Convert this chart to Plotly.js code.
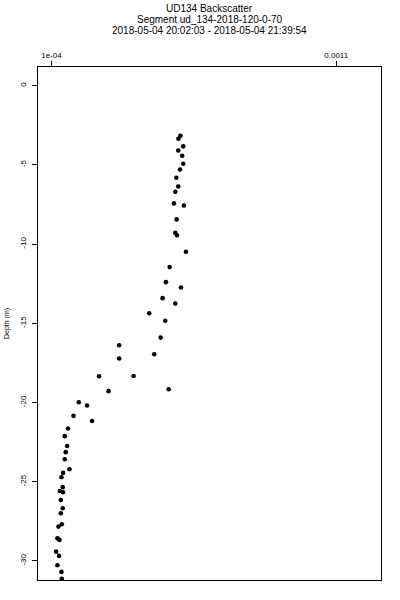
<!DOCTYPE html>
<html>
<head>
<meta charset="utf-8">
<script src="https://cdn.plot.ly/plotly-3.0.1.min.js"></script>
<style>html,body{margin:0;padding:0;background:#fff;}#chart{width:400px;height:600px;}</style>
</head>
<body>
<div id="chart"></div>
<script>
// Backscatter values (units of 1e-4, log x axis)
const backscatterE4 = [2.963,2.913,3.034,2.909,3.008,3.034,2.951,2.861,2.909,2.837,
  2.806,3.052,2.870,2.837,2.877,3.104,2.706,2.622,2.976,2.550,
  2.837,2.278,2.607,2.508,1.769,2.376,1.769,1.494,1.997,2.683,
  1.618,1.259,1.350,1.204,1.408,1.150,1.119,1.141,1.128,1.119,
  1.164,1.103,1.088,1.100,1.073,1.103,1.082,1.100,1.082,1.091,
  1.061,1.052,1.070,1.040,1.066,1.052,1.088,1.091];
// Depth (m)
const depth = [-3.16,-3.35,-3.83,-4.09,-4.42,-4.93,-5.29,-5.81,-6.36,-6.69,
  -7.43,-7.56,-8.44,-9.28,-9.44,-10.48,-11.45,-12.40,-12.74,-13.41,
  -13.75,-14.36,-14.84,-15.90,-16.38,-16.95,-17.22,-18.34,-18.32,-19.16,
  -19.28,-19.98,-20.19,-20.84,-21.16,-21.64,-22.12,-22.74,-23.13,-23.58,
  -24.21,-24.44,-24.71,-25.34,-25.58,-25.66,-26.15,-26.67,-26.99,-27.68,
  -27.83,-28.57,-28.67,-29.41,-29.68,-30.27,-30.69,-31.12];
const xTickVals = [1e-4, 1.1e-3];
const xTickText = ["1e-04", "0.0011"];
const yTickVals = [0, -5, -10, -15, -20, -25, -30];
const yTickText = ["0", "-5", "-10", "-15", "-20", "-25", "-30"];
const titleLines = ["UD134 Backscatter", "Segment ud_134-2018-120-0-70", "2018-05-04 20:02:03 - 2018-05-04 21:39:54"];

const xs = backscatterE4.map(v => v * 1e-4);
const font = "Liberation Sans, Arial, Helvetica, sans-serif";

const trace = {
  x: xs, y: depth, type: "scatter", mode: "markers",
  marker: {color: "#000", size: 4.6, symbol: "circle"},
  hoverinfo: "skip"
};

const titleOffsets = [59, 48, 37];
const annotations = titleLines.map((t, i) => ({
  text: t, xref: "paper", yref: "paper", x: 0.5, y: 1,
  yshift: titleOffsets[i], xanchor: "center", yanchor: "middle",
  showarrow: false, font: {family: font, size: 10, color: "#000"}
}));

const layout = {
  width: 400, height: 600,
  margin: {l: 38, r: 19, t: 67, b: 20},
  paper_bgcolor: "#fff", plot_bgcolor: "#fff",
  showlegend: false,
  font: {family: font, color: "#000"},
  annotations: annotations,
  xaxis: {
    type: "log", side: "top", range: [-4.0491, -2.7949],
    tickmode: "array", tickvals: xTickVals, ticktext: xTickText,
    ticks: "outside", ticklen: 5, tickwidth: 1, tickcolor: "#000",
    showgrid: false, zeroline: false,
    showline: true, linecolor: "#000", linewidth: 1, mirror: true,
    tickfont: {family: font, size: 8, color: "#000"},
    fixedrange: true
  },
  yaxis: {
    range: [-31.2, 1.18],
    tickmode: "array", tickvals: yTickVals, ticktext: yTickText,
    ticks: "outside", ticklen: 5, tickwidth: 1, tickcolor: "#000",
    tickangle: -90, ticklabelstandoff: 3,
    showgrid: false, zeroline: false,
    showline: true, linecolor: "#000", linewidth: 1, mirror: true,
    tickfont: {family: font, size: 8, color: "#000"},
    title: {text: "Depth (m)", font: {family: font, size: 7, color: "#000"}, standoff: 8},
    fixedrange: true
  }
};

Plotly.newPlot("chart", [trace], layout, {displayModeBar: false, staticPlot: true});
</script>
</body>
</html>
